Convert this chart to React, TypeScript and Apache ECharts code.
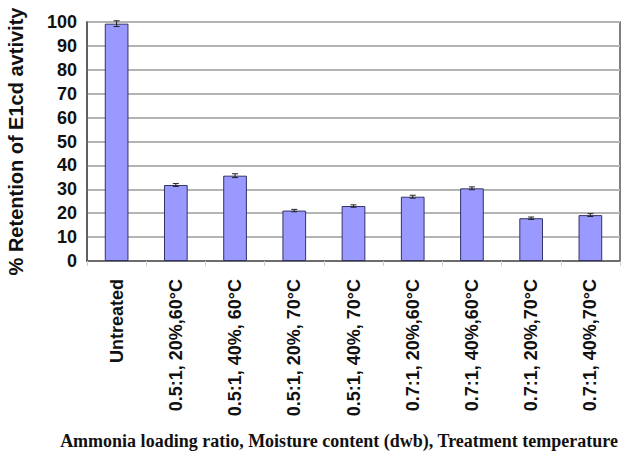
import React, { useEffect, useRef } from "react";
import * as echarts from "echarts";

const categories = [
  "Untreated",
  "0.5:1, 20%,60°C",
  "0.5:1, 40%, 60°C",
  "0.5:1, 20%, 70°C",
  "0.5:1, 40%, 70°C",
  "0.7:1, 20%,60°C",
  "0.7:1, 40%,60°C",
  "0.7:1, 20%,70°C",
  "0.7:1, 40%,70°C",
];
const values = [99.3, 31.8, 35.7, 21.1, 23.0, 26.9, 30.4, 17.9, 19.2];
const errors = [1.2, 0.6, 0.8, 0.5, 0.5, 0.6, 0.6, 0.5, 0.6];
const yTicks = { min: 0, max: 100, interval: 10 };
const xTitle = "Ammonia loading ratio, Moisture content (dwb), Treatment temperature";
const yTitle = "% Retention of E1cd avtivity";

export default function App() {
  const ref = useRef<HTMLDivElement>(null);
  useEffect(() => {
    if (!ref.current) return;
    const chart = echarts.init(ref.current, null, { renderer: "svg" });
    const errData = values.map((v, i) => [i, v - errors[i], v + errors[i]]);
    chart.setOption({
      animation: false,
      backgroundColor: "#ffffff",
      grid: {
        left: 87,
        right: 3,
        top: 22,
        bottom: 196,
        outerBoundsMode: "none",
        containLabel: false,
        show: true,
        borderColor: "#555555",
        borderWidth: 1.5,
        backgroundColor: "transparent",
      },
      graphic: [
        {
          type: "text",
          x: 339,
          y: 441,
          style: {
            text: xTitle,
            fontFamily: "Liberation Serif",
            fontWeight: "bold",
            fontSize: 18,
            fill: "#111111",
            textAlign: "center",
            textVerticalAlign: "middle",
          },
        },
      ],
      xAxis: {
        type: "category",
        data: categories,
        axisLine: { show: true, lineStyle: { color: "#555555", width: 1.5 } },
        axisTick: { show: true, length: 5, lineStyle: { color: "#d0d0d0", width: 1 } },
        axisLabel: {
          rotate: 90,
          margin: 18,
          interval: 0,
          fontFamily: "Liberation Sans",
          fontWeight: "bold",
          fontSize: 18,
          color: "#111111",
        },
        splitLine: { show: false },
      },
      yAxis: {
        type: "value",
        min: yTicks.min,
        max: yTicks.max,
        interval: yTicks.interval,
        name: yTitle,
        nameLocation: "middle",
        nameGap: 61,
        nameTextStyle: {
          fontFamily: "Liberation Sans",
          fontWeight: "bold",
          fontSize: 20,
          color: "#111111",
        },
        axisLine: { show: true, lineStyle: { color: "#555555", width: 1.5 } },
        axisTick: { show: false },
        axisLabel: {
          margin: 10,
          fontFamily: "Liberation Sans",
          fontWeight: "bold",
          fontSize: 18,
          color: "#111111",
        },
        splitLine: { show: true, lineStyle: { color: "#b4b4b4", width: 2 } },
      },
      series: [
        {
          type: "bar",
          data: values,
          barWidth: "40%",
          itemStyle: { color: "#9999ff", borderColor: "#333366", borderWidth: 1 },
          z: 2,
        },
        {
          type: "custom",
          data: errData,
          z: 3,
          renderItem: (params: any, api: any) => {
            const x = api.value(0);
            const lo = api.coord([x, api.value(1)]);
            const hi = api.coord([x, api.value(2)]);
            const cap = 3;
            const style = { stroke: "#222222", lineWidth: 1 };
            return {
              type: "group",
              children: [
                { type: "line", shape: { x1: lo[0], y1: lo[1], x2: hi[0], y2: hi[1] }, style },
                { type: "line", shape: { x1: hi[0] - cap, y1: hi[1], x2: hi[0] + cap, y2: hi[1] }, style },
                { type: "line", shape: { x1: lo[0] - cap, y1: lo[1], x2: lo[0] + cap, y2: lo[1] }, style },
              ],
            };
          },
        },
      ],
    });
    return () => chart.dispose();
  }, []);
  return (
    <div
      ref={ref}
      style={{ position: "fixed", left: 0, top: 0, width: 623, height: 457 }}
    />
  );
}
